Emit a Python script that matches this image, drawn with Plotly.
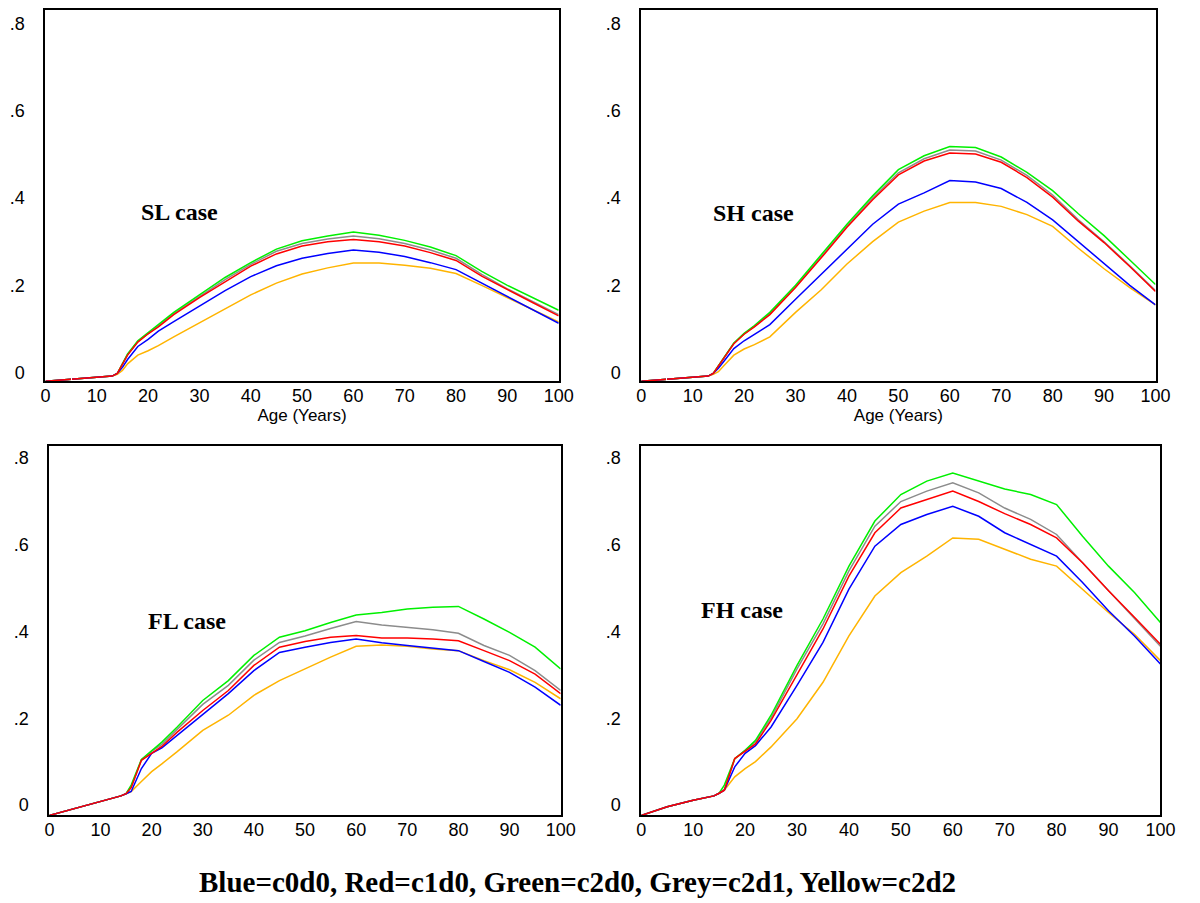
import plotly.graph_objects as go

AGES = [0, 5, 10, 13, 14, 15, 16, 18, 20, 22, 25, 30, 35, 40, 45, 50, 55, 60, 65, 70, 75, 80, 85, 90, 95, 100]

# SL case
SL_BLUE = [-0.020, -0.015, -0.010, -0.008, -0.002, 0.012, 0.030, 0.060, 0.076, 0.095, 0.117, 0.153, 0.188, 0.220, 0.245, 0.262, 0.273, 0.281, 0.276, 0.266, 0.252, 0.236, 0.205, 0.175, 0.145, 0.113]
SL_RED = [-0.020, -0.015, -0.010, -0.008, -0.002, 0.018, 0.040, 0.070, 0.089, 0.105, 0.133, 0.172, 0.209, 0.244, 0.272, 0.290, 0.300, 0.305, 0.300, 0.290, 0.275, 0.257, 0.221, 0.190, 0.160, 0.130]
SL_GREEN = [-0.020, -0.015, -0.010, -0.008, -0.002, 0.020, 0.043, 0.073, 0.092, 0.110, 0.138, 0.178, 0.218, 0.252, 0.283, 0.302, 0.313, 0.322, 0.315, 0.303, 0.288, 0.268, 0.232, 0.200, 0.172, 0.143]
SL_GREY = [-0.020, -0.015, -0.010, -0.008, -0.002, 0.018, 0.041, 0.071, 0.090, 0.107, 0.135, 0.175, 0.213, 0.248, 0.278, 0.296, 0.306, 0.313, 0.307, 0.296, 0.281, 0.262, 0.225, 0.192, 0.163, 0.133]
SL_YELLOW = [-0.020, -0.015, -0.010, -0.008, -0.004, 0.005, 0.020, 0.040, 0.050, 0.062, 0.082, 0.114, 0.146, 0.178, 0.205, 0.226, 0.240, 0.251, 0.251, 0.246, 0.239, 0.227, 0.200, 0.172, 0.145, 0.116]

# SH case
SH_BLUE = [-0.020, -0.015, -0.010, -0.008, -0.002, 0.010, 0.025, 0.055, 0.073, 0.088, 0.110, 0.168, 0.225, 0.283, 0.340, 0.386, 0.412, 0.440, 0.437, 0.422, 0.390, 0.350, 0.300, 0.250, 0.200, 0.155]
SH_RED = [-0.020, -0.015, -0.010, -0.008, -0.002, 0.015, 0.033, 0.066, 0.088, 0.105, 0.133, 0.195, 0.263, 0.333, 0.396, 0.453, 0.485, 0.503, 0.501, 0.482, 0.447, 0.402, 0.347, 0.298, 0.243, 0.186]
SH_GREEN = [-0.020, -0.015, -0.010, -0.008, -0.002, 0.015, 0.035, 0.068, 0.090, 0.108, 0.138, 0.200, 0.270, 0.340, 0.405, 0.465, 0.497, 0.518, 0.516, 0.494, 0.459, 0.417, 0.364, 0.314, 0.258, 0.202]
SH_GREY = [-0.020, -0.015, -0.010, -0.008, -0.002, 0.015, 0.034, 0.067, 0.089, 0.106, 0.135, 0.197, 0.266, 0.336, 0.400, 0.458, 0.490, 0.510, 0.508, 0.487, 0.452, 0.407, 0.350, 0.300, 0.245, 0.188]
SH_YELLOW = [-0.020, -0.015, -0.010, -0.008, -0.004, 0.002, 0.015, 0.040, 0.054, 0.064, 0.082, 0.138, 0.190, 0.249, 0.300, 0.345, 0.370, 0.390, 0.390, 0.381, 0.362, 0.335, 0.285, 0.238, 0.195, 0.155]

# FL case
FL_BLUE = [-0.024, -0.008, 0.008, 0.017, 0.021, 0.026, 0.031, 0.084, 0.119, 0.132, 0.161, 0.210, 0.257, 0.310, 0.352, 0.364, 0.375, 0.383, 0.374, 0.368, 0.362, 0.356, 0.331, 0.306, 0.272, 0.230]
FL_RED = [-0.024, -0.008, 0.008, 0.017, 0.021, 0.026, 0.040, 0.103, 0.119, 0.135, 0.168, 0.218, 0.264, 0.322, 0.364, 0.377, 0.387, 0.391, 0.385, 0.385, 0.383, 0.379, 0.356, 0.333, 0.302, 0.257]
FL_GREEN = [-0.024, -0.008, 0.008, 0.017, 0.021, 0.026, 0.046, 0.105, 0.126, 0.145, 0.180, 0.241, 0.287, 0.345, 0.387, 0.402, 0.421, 0.438, 0.444, 0.452, 0.456, 0.458, 0.429, 0.398, 0.364, 0.314]
FL_GREY = [-0.024, -0.008, 0.008, 0.017, 0.021, 0.026, 0.042, 0.104, 0.124, 0.140, 0.175, 0.232, 0.276, 0.334, 0.375, 0.390, 0.407, 0.423, 0.415, 0.410, 0.404, 0.396, 0.368, 0.345, 0.310, 0.264]
FL_YELLOW = [-0.024, -0.008, 0.008, 0.017, 0.021, 0.026, 0.031, 0.054, 0.077, 0.095, 0.123, 0.172, 0.207, 0.253, 0.287, 0.314, 0.341, 0.366, 0.369, 0.366, 0.360, 0.356, 0.333, 0.312, 0.283, 0.245]

# FH case
FH_BLUE = [-0.024, -0.004, 0.011, 0.018, 0.021, 0.027, 0.034, 0.088, 0.119, 0.137, 0.180, 0.276, 0.375, 0.498, 0.597, 0.647, 0.670, 0.689, 0.666, 0.628, 0.601, 0.574, 0.513, 0.448, 0.390, 0.325]
FH_RED = [-0.024, -0.004, 0.011, 0.018, 0.021, 0.027, 0.034, 0.107, 0.123, 0.141, 0.195, 0.302, 0.406, 0.528, 0.628, 0.685, 0.704, 0.724, 0.700, 0.672, 0.647, 0.616, 0.559, 0.494, 0.433, 0.371]
FH_GREEN = [-0.024, -0.004, 0.011, 0.018, 0.021, 0.027, 0.046, 0.107, 0.126, 0.149, 0.207, 0.322, 0.429, 0.551, 0.655, 0.716, 0.747, 0.766, 0.747, 0.729, 0.716, 0.693, 0.620, 0.551, 0.490, 0.421]
FH_GREY = [-0.024, -0.004, 0.011, 0.018, 0.021, 0.027, 0.036, 0.106, 0.125, 0.146, 0.201, 0.314, 0.418, 0.540, 0.643, 0.700, 0.724, 0.743, 0.720, 0.685, 0.659, 0.624, 0.559, 0.494, 0.430, 0.366]
FH_YELLOW = [-0.024, -0.004, 0.011, 0.018, 0.021, 0.027, 0.034, 0.065, 0.084, 0.100, 0.134, 0.199, 0.283, 0.390, 0.482, 0.536, 0.574, 0.616, 0.613, 0.590, 0.567, 0.551, 0.498, 0.444, 0.394, 0.333]

PANEL_LABELS = ["SL case", "SH case", "FL case", "FH case"]
X_TICKS = [0, 10, 20, 30, 40, 50, 60, 70, 80, 90, 100]
Y_TICKS = [0, 0.2, 0.4, 0.6, 0.8]
Y_TICK_TEXT = ["0", ".2", ".4", ".6", ".8"]
X_TITLE = "Age (Years)"
LEGEND_TEXT = "Blue=c0d0, Red=c1d0, Green=c2d0, Grey=c2d1, Yellow=c2d2"

COLORS = {"grey": "#8c8c8c", "green": "#00f000", "yellow": "#ffb400", "blue": "#0000ff", "red": "#ff0000"}

panels = [
    {"grey": SL_GREY, "green": SL_GREEN, "yellow": SL_YELLOW, "blue": SL_BLUE, "red": SL_RED},
    {"grey": SH_GREY, "green": SH_GREEN, "yellow": SH_YELLOW, "blue": SH_BLUE, "red": SH_RED},
    {"grey": FL_GREY, "green": FL_GREEN, "yellow": FL_YELLOW, "blue": FL_BLUE, "red": FL_RED},
    {"grey": FH_GREY, "green": FH_GREEN, "yellow": FH_YELLOW, "blue": FH_BLUE, "red": FH_RED},
]

# page body has an 8px default margin: lay out in page pixels, then shift
OFF = 8
W, H = 1200 - OFF, 903 - OFF
# page-pixel boxes (left, right, top, bottom)
boxes = [(41, 563, 8, 381), (647, 1170, 8, 381), (45, 565, 446, 817), (647, 1175, 446, 817)]
yranges = [(-0.020, 0.831), (-0.020, 0.831), (-0.024, 0.828), (-0.024, 0.828)]
label_pos = [(177, 211), (761, 212), (185, 622), (749, 611)]


def px(x):
    return (x - OFF) / W


def py(y):
    return 1 - (y - OFF) / H


fig = go.Figure()
layout = dict(width=W, height=H, margin=dict(l=0, r=0, t=0, b=0),
              paper_bgcolor="white", plot_bgcolor="white", showlegend=False,
              font=dict(family="Liberation Sans, Arial, sans-serif", size=18, color="black"))
annotations = []

for i, (data, box, yr) in enumerate(zip(panels, boxes, yranges)):
    n = "" if i == 0 else str(i + 1)
    xa, ya = "x" + n, "y" + n
    for key in ["grey", "green", "yellow", "blue", "red"]:
        fig.add_trace(go.Scatter(x=AGES, y=data[key], mode="lines", xaxis=xa, yaxis=ya,
                                 line=dict(color=COLORS[key], width=1.5), name=key, hoverinfo="skip"))
    l, r, t, b = box
    xd = [px(l), px(r)]
    yd = [py(b), py(t)]
    xaxis = dict(domain=xd, range=[0, 100], anchor=ya, tickvals=X_TICKS, showgrid=False, zeroline=False,
                 showline=True, linecolor="black", linewidth=2, mirror=True,
                 ticks="inside", ticklen=3, tickcolor="white", tickwidth=1,
                 minor=dict(dtick=5, ticks="inside", ticklen=3, tickcolor="white", tickwidth=1, showgrid=False),
                 tickfont=dict(size=18), ticklabelstandoff=-3, fixedrange=True)
    if i < 2:
        xaxis["title"] = dict(text=X_TITLE, font=dict(size=17), standoff=0)
    yaxis = dict(domain=yd, range=list(yr), anchor=xa, tickvals=Y_TICKS, ticktext=Y_TICK_TEXT,
                 showgrid=False, zeroline=False, showline=True, linecolor="black", linewidth=2, mirror=True,
                 ticks="inside", ticklen=3, tickcolor="white", tickwidth=1,
                 tickfont=dict(size=18), ticklabelstandoff=15, fixedrange=True)
    layout["xaxis" + n] = xaxis
    layout["yaxis" + n] = yaxis
    lx, ly = label_pos[i]
    annotations.append(dict(text="<b>" + PANEL_LABELS[i] + "</b>", x=px(lx), y=py(ly), xref="paper", yref="paper",
                            showarrow=False, xanchor="center", yanchor="middle",
                            font=dict(family="Liberation Serif, Times New Roman, serif", size=24, color="black")))

annotations.append(dict(text="<b>" + LEGEND_TEXT + "</b>", x=px(582), y=py(884), xref="paper", yref="paper",
                        showarrow=False, xanchor="center", yanchor="middle",
                        font=dict(family="Liberation Serif, Times New Roman, serif", size=29, color="black")))
layout["annotations"] = annotations
fig.update_layout(**layout)
fig.write_html("out.html")
